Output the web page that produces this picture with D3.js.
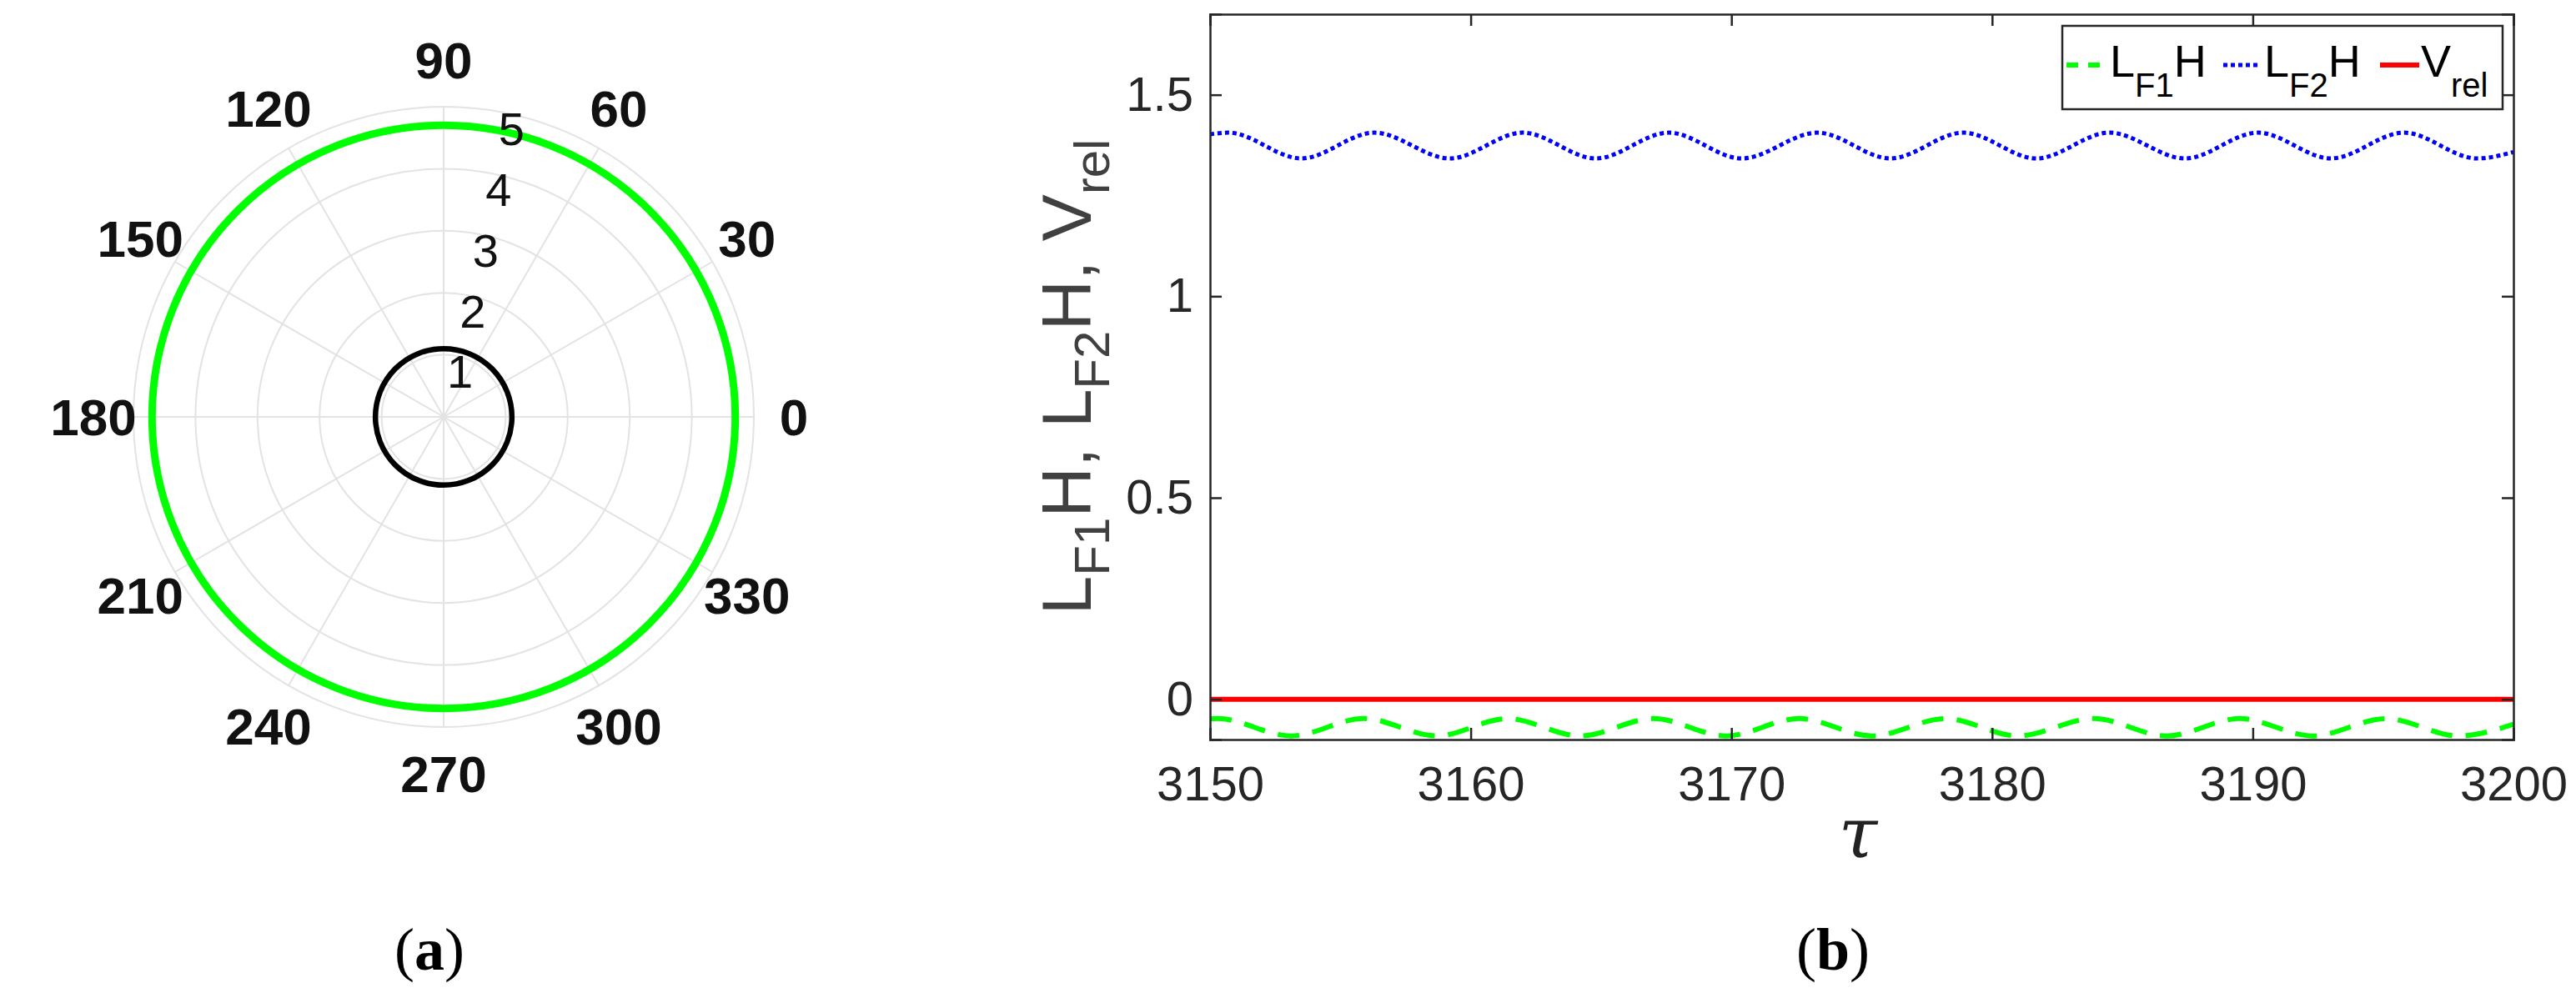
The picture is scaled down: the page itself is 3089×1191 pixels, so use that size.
<!DOCTYPE html>
<html>
<head>
<meta charset="utf-8">
<script src="https://cdn.jsdelivr.net/npm/d3@7"></script>
<style>
  body { margin: 0; background: #fff; }
  svg { display: block; }
</style>
</head>
<body>
<svg width="3089" height="1191"></svg>
<script>
// ---- panel (a) data ----
const polarAngles = [0, 30, 60, 90, 120, 150, 180, 210, 240, 270, 300, 330];
const polarRings = [1, 2, 3, 4, 5];
const greenRadius = 4.7;
const blackRadius = 1.1;

// ---- panel (b) data ----
const xTicks = [3150, 3160, 3170, 3180, 3190, 3200];
const yTicks = [0, 0.5, 1, 1.5];
const yTickLabels = ['0', '0.5', '1', '1.5'];
// L_F2 H extrema (tau, value)
const lf2Tau = [3150, 3150.7, 3153.5, 3156.3, 3159.2, 3162.0, 3164.8, 3167.6, 3170.4, 3173.3,
                3176.1, 3178.9, 3181.7, 3184.5, 3187.4, 3190.2, 3193.0, 3195.8, 3198.6, 3200];
const lf2Val = [1.402, 1.406, 1.342, 1.406, 1.342, 1.406, 1.342, 1.406, 1.342, 1.406,
                1.342, 1.406, 1.342, 1.406, 1.342, 1.406, 1.342, 1.406, 1.342, 1.358];
// L_F1 H extrema
const lf1Tau = [3150, 3150.3, 3153.1, 3155.9, 3158.7, 3161.4, 3164.2, 3167.0, 3169.8, 3172.6,
                3175.4, 3178.2, 3181.0, 3183.9, 3186.7, 3189.5, 3192.3, 3195.1, 3197.9, 3200];
const lf1Val = [-0.049, -0.048, -0.091, -0.048, -0.091, -0.048, -0.091, -0.048, -0.091, -0.048,
                -0.091, -0.048, -0.091, -0.048, -0.091, -0.048, -0.091, -0.048, -0.091, -0.062];
const vrelTau = [3150, 3200];
const vrelVal = [0, 0];

const svg = d3.select('svg');
const axisColor = '#262626';

// ================= panel (a): polar =================
const cx = 532, cy = 500;
const r = d3.scaleLinear().domain([0, 5]).range([0, 372]);
const pa = svg.append('g').attr('transform', `translate(${cx},${cy})`);
const rad = a => a * Math.PI / 180;

pa.selectAll('circle.ring').data(polarRings).join('circle')
  .attr('class', 'ring')
  .attr('r', d => r(d))
  .attr('fill', 'none')
  .attr('stroke', '#e3e3e3')
  .attr('stroke-width', 2);

pa.selectAll('line.spoke').data(polarAngles).join('line')
  .attr('x1', 0).attr('y1', 0)
  .attr('x2', d => r(5) * Math.cos(rad(d)))
  .attr('y2', d => -r(5) * Math.sin(rad(d)))
  .attr('stroke', '#e3e3e3')
  .attr('stroke-width', 2);

pa.selectAll('text.ang').data(polarAngles).join('text')
  .attr('x', d => 420 * Math.cos(rad(d)))
  .attr('y', d => -428 * Math.sin(rad(d)))
  .attr('dy', '0.36em')
  .attr('text-anchor', 'middle')
  .attr('font-family', 'Liberation Sans, Arial, sans-serif')
  .attr('font-weight', 'bold')
  .attr('font-size', 62)
  .attr('fill', '#111')
  .text(d => d);

pa.append('circle')
  .attr('r', r(greenRadius))
  .attr('fill', 'none')
  .attr('stroke', '#00ff00')
  .attr('stroke-width', 9);

pa.append('circle')
  .attr('r', r(blackRadius))
  .attr('fill', 'none')
  .attr('stroke', '#000')
  .attr('stroke-width', 6.5);

pa.selectAll('text.rt').data(polarRings).join('text')
  .attr('x', d => r(d) * Math.cos(rad(78)) + 4)
  .attr('y', d => -r(d) * Math.sin(rad(78)) + 18)
  .attr('text-anchor', 'middle')
  .attr('dy', '0.36em')
  .attr('font-family', 'Liberation Sans, Arial, sans-serif')
  .attr('font-size', 56)
  .attr('fill', '#111')
  .text(d => d);

svg.append('text')
  .attr('x', 515).attr('y', 1137)
  .attr('dy', '0.36em')
  .attr('text-anchor', 'middle')
  .attr('font-family', 'Liberation Serif, serif')
  .attr('font-size', 72)
  .html('(<tspan font-weight="bold">a</tspan>)');

// ================= panel (b): time series =================
const L = 1451, R = 3014, T = 17, B = 887;
const x = d3.scaleLinear().domain([3150, 3200]).range([L, R]);
const y = d3.scaleLinear().domain([-0.1, 1.7]).range([B, T]);

const pb = svg.append('g');
pb.append('defs').append('clipPath').attr('id', 'clipb')
  .append('rect').attr('x', L).attr('y', T).attr('width', R - L).attr('height', B - T);

const lineGen = d3.line().x(d => x(d[0])).y(d => y(d[1])).curve(d3.curveMonotoneX);
const series = [
  { tau: lf1Tau, val: lf1Val, color: '#00ff00', w: 6, dash: '26,16' },
  { tau: lf2Tau, val: lf2Val, color: '#0000ff', w: 5, dash: '5,4' },
  { tau: vrelTau, val: vrelVal, color: '#ff0000', w: 6, dash: null }
];
pb.append('g').attr('clip-path', 'url(#clipb)')
  .selectAll('path').data(series).join('path')
  .attr('d', s => lineGen(d3.zip(s.tau, s.val)))
  .attr('fill', 'none')
  .attr('stroke', s => s.color)
  .attr('stroke-width', s => s.w)
  .attr('stroke-dasharray', s => s.dash);

// axes (box with inward ticks)
const tickLen = 14;
const font = 'Liberation Sans, Arial, sans-serif';
pb.append('g').attr('transform', `translate(0,${B})`)
  .call(d3.axisBottom(x).tickValues(xTicks).tickSize(-tickLen).tickPadding(32).tickFormat(d3.format('d')))
  .call(g => g.selectAll('text').attr('font-size', 58).attr('font-family', font).attr('fill', axisColor));
pb.append('g').attr('transform', `translate(0,${T})`)
  .call(d3.axisTop(x).tickValues(xTicks).tickSize(-tickLen).tickFormat(''));
pb.append('g').attr('transform', `translate(${L},0)`)
  .call(d3.axisLeft(y).tickValues(yTicks).tickSize(-tickLen).tickPadding(20).tickFormat((d, i) => yTickLabels[i]))
  .call(g => g.selectAll('text').attr('font-size', 58).attr('font-family', font).attr('fill', axisColor));
pb.append('g').attr('transform', `translate(${R},0)`)
  .call(d3.axisRight(y).tickValues(yTicks).tickSize(-tickLen).tickFormat(''));
pb.selectAll('.domain').attr('stroke', axisColor).attr('stroke-width', 2.5);
pb.selectAll('.tick line').attr('stroke', axisColor).attr('stroke-width', 2.5);

// y label
pb.append('text')
  .attr('transform', `translate(1308,452) rotate(-90)`)
  .attr('text-anchor', 'middle')
  .attr('font-family', font)
  .attr('font-size', 84)
  .attr('fill', '#404040')
  .html('L<tspan font-size="60" dy="22">F1</tspan><tspan dy="-22">H, L</tspan><tspan font-size="60" dy="22">F2</tspan><tspan dy="-22">H, V</tspan><tspan font-size="60" dy="22">rel</tspan>');

// x label
pb.append('text')
  .attr('x', 2228).attr('y', 1028)
  .attr('text-anchor', 'middle')
  .attr('font-family', 'DejaVu Serif, serif')
  .attr('font-style', 'italic')
  .attr('font-size', 84)
  .attr('fill', '#222')
  .text('τ');

// legend
const lg = pb.append('g');
lg.append('rect').attr('x', 2473).attr('y', 31).attr('width', 528).attr('height', 100)
  .attr('fill', '#fff').attr('stroke', axisColor).attr('stroke-width', 2.5);
const legendItems = [
  { x1: 2478, x2: 2526, tx: 2530, main: 'L', sub: 'F1', tail: 'H', s: series[0] },
  { x1: 2666, x2: 2711, tx: 2715, main: 'L', sub: 'F2', tail: 'H', s: series[1] },
  { x1: 2854, x2: 2901, tx: 2903, main: 'V', sub: 'rel', tail: '', s: series[2] }
];
legendItems.forEach(it => {
  lg.append('line').attr('x1', it.x1).attr('x2', it.x2).attr('y1', 78).attr('y2', 78)
    .attr('stroke', it.s.color).attr('stroke-width', it.s.w)
    .attr('stroke-dasharray', it.s.dash ? (it.s.dash === '26,16' ? '14,12' : it.s.dash) : null);
  lg.append('text').attr('x', it.tx).attr('y', 92)
    .attr('font-family', font).attr('font-size', 54).attr('fill', '#000')
    .html(`${it.main}<tspan font-size="40" dy="24">${it.sub}</tspan><tspan dy="-24">${it.tail}</tspan>`);
});

svg.append('text')
  .attr('x', 2198).attr('y', 1137)
  .attr('dy', '0.36em')
  .attr('text-anchor', 'middle')
  .attr('font-family', 'Liberation Serif, serif')
  .attr('font-size', 72)
  .html('(<tspan font-weight="bold">b</tspan>)');
</script>
</body>
</html>
